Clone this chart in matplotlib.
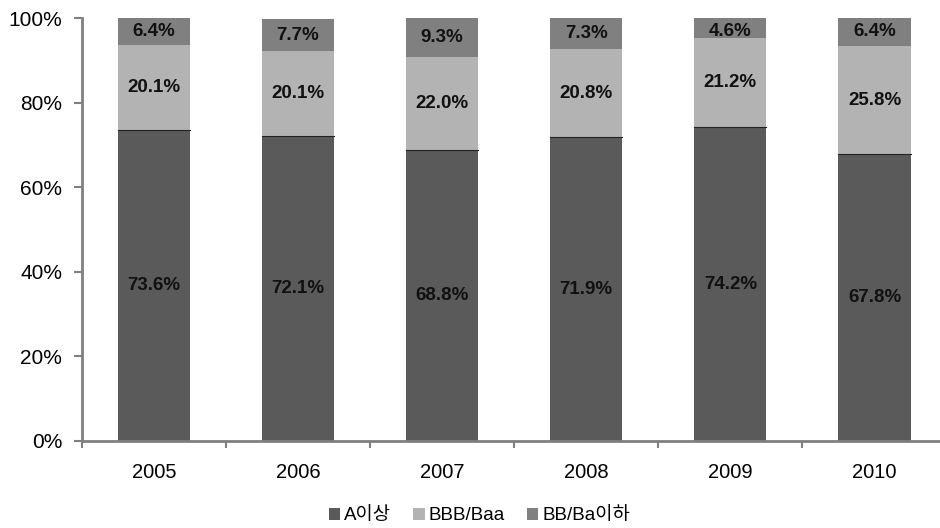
import matplotlib.pyplot as plt
import numpy as np

plt.rcParams['font.family'] = ['Liberation Sans', 'Noto Sans CJK KR', 'DejaVu Sans']

years = ["2005", "2006", "2007", "2008", "2009", "2010"]
a_above = [73.6, 72.1, 68.8, 71.9, 74.2, 67.8]
bbb_baa = [20.1, 20.1, 22.0, 20.8, 21.2, 25.8]
bb_below = [6.4, 7.7, 9.3, 7.3, 4.6, 6.4]
series_names = ["A이상", "BBB/Baa", "BB/Ba이하"]
colors = ["#5a5a5a", "#b3b3b3", "#808080"]

fig = plt.figure(figsize=(9.4, 5.28), dpi=100)
ax = fig.add_axes([0.087, 0.165, 0.92, 0.8])

x = np.arange(len(years))
width = 0.5
bottom = np.zeros(len(years))
for vals, name, col in zip([a_above, bbb_baa, bb_below], series_names, colors):
    vals = np.array(vals)
    ax.bar(x, vals, width, bottom=bottom, color=col, label=name, edgecolor='none')
    for xi, b, v in zip(x, bottom, vals):
        ax.text(xi, min(b + v / 2, 97.0), f"{v:.1f}%", ha='center', va='center',
                fontsize=13.5, fontweight='bold', color='#111111')
    bottom += vals

# thin dark line between the bottom and middle segments
for xi, v in zip(x, a_above):
    ax.plot([xi - width / 2, xi + width / 2], [v, v], color='#222222', lw=0.8)

ax.set_xlim(-0.5, len(years) - 0.5)
ax.set_ylim(0, 100)
ax.set_yticks(np.arange(0, 101, 20))
ax.set_yticklabels([f"{t}%" for t in range(0, 101, 20)], fontsize=15)
ax.set_xticks(x)
ax.set_xticklabels(years, fontsize=14.5)
ax.set_xticks(np.arange(-0.5, len(years), 1), minor=True)
ax.tick_params(axis='x', which='major', length=0, pad=16)
ax.tick_params(axis='x', which='minor', length=5, color='#808080', width=1.5)
ax.tick_params(axis='y', length=6, color='#808080', width=1.5, pad=8)

for s in ['top', 'right']:
    ax.spines[s].set_visible(False)
for s in ['left', 'bottom']:
    ax.spines[s].set_color('#808080')
    ax.spines[s].set_linewidth(2)

leg = fig.legend(loc='lower center', ncol=3, frameon=False, fontsize=13.5,
                 handlelength=0.6, handleheight=0.6, handletextpad=0.2,
                 columnspacing=1.2, bbox_to_anchor=(0.51, -0.025))

fig.savefig("out.png", dpi=100)
